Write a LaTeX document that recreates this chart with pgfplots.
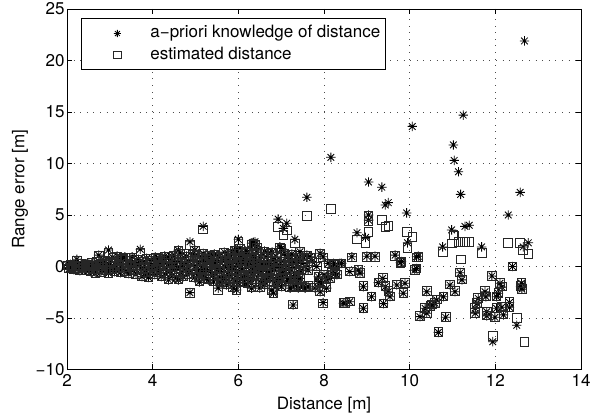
\documentclass[border=0pt]{standalone}
\usepackage{pgfplots}
\pgfplotsset{compat=1.18}
\usepackage{pgfplotstable}
\usepackage{fontspec}
\setmainfont{TeX Gyre Heros}
\pgfdeclareplotmark{mstar}{%
 \pgfpathmoveto{\pgfqpoint{-\pgfplotmarksize}{0pt}}\pgfpathlineto{\pgfqpoint{\pgfplotmarksize}{0pt}}%
 \pgfpathmoveto{\pgfqpoint{0pt}{-\pgfplotmarksize}}\pgfpathlineto{\pgfqpoint{0pt}{\pgfplotmarksize}}%
 \pgfpathmoveto{\pgfqpoint{-.707\pgfplotmarksize}{-.707\pgfplotmarksize}}\pgfpathlineto{\pgfqpoint{.707\pgfplotmarksize}{.707\pgfplotmarksize}}%
 \pgfpathmoveto{\pgfqpoint{-.707\pgfplotmarksize}{.707\pgfplotmarksize}}\pgfpathlineto{\pgfqpoint{.707\pgfplotmarksize}{-.707\pgfplotmarksize}}%
 \pgfusepathqstroke}
\pgfplotsset{
  mlegimg/.style={legend image code/.code={%
    \path[draw=none,fill=none] (0bp,-5bp) rectangle (64bp,5bp);
    \draw[##1,mark size=3.6bp] plot coordinates {(31bp,0bp)};}},
}
\pgfplotstableread{
x a e
2.02 0.10 0.10
2.05 -0.20 -0.18
2.08 0.20 0.18
2.10 -0.10 -0.10
2.13 0.00 0.02
2.16 -0.30 -0.28
2.20 0.15 0.12
2.23 0.70 0.60
2.25 -0.20 -0.20
2.28 0.05 0.05
2.30 -0.40 -0.38
2.33 0.30 0.28
2.36 -0.10 -0.08
2.40 0.10 0.10
2.43 -0.35 -0.33
2.46 0.25 0.22
2.50 -0.20 -0.20
2.52 0.00 0.00
2.55 -0.50 -0.48
2.58 0.35 0.32
2.60 -0.25 -0.25
2.63 0.10 0.10
2.66 -0.65 -0.62
2.69 0.45 0.42
2.72 -0.30 -0.30
2.74 1.10 1.00
2.76 0.05 0.05
2.79 -0.55 -0.52
2.82 0.30 0.30
2.85 -0.15 -0.15
2.88 0.60 0.55
2.90 -0.40 -0.40
2.93 0.20 0.20
2.97 1.60 1.30
2.97 -0.65 -0.62
3.00 0.40 0.38
3.03 -0.30 -0.30
3.06 0.90 0.85
3.08 0.00 0.00
3.11 -0.50 -0.48
3.14 0.50 0.48
3.17 1.00 0.95
3.19 -0.20 -0.20
3.22 0.20 0.20
3.25 -0.60 -0.58
3.28 0.80 0.75
3.30 0.65 0.62
3.33 -0.10 -0.10
3.35 0.95 0.90
3.38 -0.45 -0.45
3.41 0.30 0.30
3.44 -0.70 -0.68
3.47 0.55 0.52
3.50 0.00 0.00
3.52 0.95 0.90
3.55 -0.40 -0.40
3.58 0.40 0.38
3.61 -0.75 -0.72
3.64 0.15 0.15
3.67 0.70 0.68
3.71 1.67 1.34
3.72 -0.25 -0.25
3.75 -1.00 -0.95
3.78 0.45 0.42
3.80 0.00 0.00
3.83 -0.60 -0.58
3.86 0.80 0.78
3.88 -0.20 -0.20
3.90 -1.05 -1.00
3.93 0.30 0.30
3.96 0.60 0.58
3.98 -0.45 -0.45
4.02 0.10 0.10
4.05 -0.80 -0.78
4.06 0.95 0.90
4.09 -0.30 -0.30
4.11 0.50 0.48
4.13 0.80 0.78
4.15 -0.60 -0.58
4.18 0.20 0.20
4.20 -1.00 -0.95
4.23 0.60 0.58
4.25 -0.20 -0.20
4.28 1.00 0.95
4.30 -0.70 -0.68
4.33 0.35 0.35
4.35 0.00 0.00
4.37 -1.30 -1.25
4.37 0.95 0.92
4.40 -0.45 -0.45
4.43 0.70 0.68
4.45 -0.90 -0.88
4.48 0.20 0.20
4.50 1.10 1.05
4.52 -0.30 -0.30
4.55 -1.10 -1.05
4.57 0.50 0.48
4.60 1.60 1.50
4.60 -1.30 -1.25
4.62 0.00 0.00
4.64 1.28 1.20
4.66 -0.60 -0.58
4.69 0.80 0.78
4.71 -1.00 -0.95
4.74 0.30 0.30
4.76 -0.20 -0.20
4.79 1.00 0.95
4.81 -0.80 -0.78
4.84 0.55 0.52
4.87 2.40 2.10
4.87 -2.54 -2.54
4.89 -0.40 -0.40
4.92 0.10 0.10
4.94 1.20 1.15
4.97 -1.10 -1.05
4.99 1.60 1.50
4.99 0.60 0.58
5.02 -0.60 -0.58
5.04 1.10 1.05
5.05 0.20 0.20
5.07 -1.00 -0.95
5.09 -1.50 -1.45
5.10 0.90 0.85
5.12 -0.30 -0.30
5.14 -0.20 -0.20
5.15 0.50 0.48
5.18 3.90 3.60
5.18 1.28 1.20
5.20 -0.80 -0.78
5.22 0.00 0.00
5.24 0.80 0.78
5.25 -1.20 -1.15
5.27 0.70 0.68
5.29 -0.40 -0.40
5.30 -1.30 -1.25
5.32 0.30 0.30
5.34 1.10 1.05
5.35 -0.50 -0.48
5.38 1.00 0.95
5.40 -0.90 -0.88
5.42 -1.50 -1.45
5.44 1.20 1.15
5.46 0.10 0.10
5.47 0.40 0.40
5.48 -0.30 -0.30
5.50 0.60 0.58
5.52 1.00 0.95
5.53 -2.10 -2.30
5.55 -1.00 -0.95
5.57 -0.50 -0.48
5.58 0.40 0.38
5.60 -1.60 -1.55
5.62 0.63 0.60
5.63 -1.30 -1.25
5.65 -0.20 -0.20
5.67 1.40 1.35
5.68 0.90 0.85
5.70 -1.20 -1.15
5.72 -1.80 -1.75
5.73 0.20 0.20
5.75 -0.60 -0.58
5.77 -0.10 -0.10
5.78 1.10 1.05
5.80 -1.50 -1.45
5.81 0.90 0.88
5.82 0.50 0.48
5.84 1.28 1.20
5.86 -0.30 -0.30
5.87 -1.20 -1.15
5.88 -2.10 -2.05
5.90 0.00 0.00
5.91 1.60 1.55
5.92 0.80 0.78
5.94 -0.90 -0.88
5.95 -0.50 -0.48
5.96 -2.28 -2.25
5.97 1.60 1.50
5.98 0.30 0.30
5.99 -1.60 -1.55
6.00 2.64 2.40
6.00 1.28 1.20
6.02 -0.50 -0.48
6.04 1.76 1.70
6.05 0.80 0.78
6.06 -1.20 -1.15
6.08 0.50 0.48
6.10 -0.20 -0.20
6.11 -0.90 -0.88
6.12 1.00 0.95
6.14 -1.60 -1.55
6.16 0.30 0.30
6.17 1.50 1.45
6.18 -0.80 -0.78
6.20 1.40 1.35
6.21 -1.70 -1.65
6.23 -1.15 -1.10
6.25 0.00 0.00
6.26 0.40 0.38
6.27 0.80 0.78
6.29 -0.50 -0.48
6.31 2.25 2.15
6.31 -1.63 -1.60
6.31 -2.10 -2.05
6.33 0.00 0.00
6.34 -0.90 -0.88
6.35 2.35 2.20
6.36 1.20 1.15
6.38 0.90 0.88
6.39 2.40 2.10
6.40 -0.30 -0.30
6.42 0.60 0.58
6.43 1.90 1.80
6.44 1.60 1.55
6.45 -1.00 -0.95
6.47 -0.50 -0.48
6.48 0.10 0.10
6.50 -2.10 -2.05
6.52 1.00 0.95
6.53 -1.60 -1.55
6.55 0.20 0.20
6.57 -0.30 -0.30
6.58 -1.40 -1.35
6.60 0.40 0.38
6.61 1.50 1.45
6.62 -1.80 -1.75
6.62 0.00 0.00
6.65 0.90 0.85
6.66 -1.20 -1.15
6.68 -0.70 -0.68
6.70 1.30 1.25
6.71 0.10 0.10
6.72 -1.10 -1.05
6.74 -0.50 -0.48
6.75 0.30 0.30
6.78 -2.28 -2.25
6.79 1.40 1.35
6.81 0.63 0.60
6.82 -2.60 -2.55
6.83 -1.60 -1.55
6.85 -0.40 -0.40
6.87 0.50 0.48
6.88 1.00 0.95
6.90 -1.30 -1.25
6.91 -0.10 -0.10
6.93 4.60 3.86
6.93 -1.80 -1.75
6.95 0.20 0.20
6.96 -1.20 -1.15
6.97 1.92 1.85
6.99 -0.80 -0.78
7.01 1.76 1.70
7.01 0.47 0.45
7.01 -1.96 -1.90
7.03 -0.70 -0.68
7.05 3.70 3.06
7.07 -0.30 -0.30
7.08 1.30 1.25
7.10 0.90 0.85
7.12 -1.50 -1.45
7.13 4.20 3.50
7.15 -1.20 -1.15
7.16 0.10 0.10
7.17 0.63 0.60
7.20 -0.60 -0.58
7.21 -2.10 -2.05
7.23 0.20 0.20
7.25 1.20 1.15
7.26 0.60 0.58
7.28 -3.74 -3.70
7.28 -1.96 -1.90
7.29 -1.10 -1.05
7.30 -0.10 -0.10
7.32 2.64 2.25
7.32 -0.66 -0.62
7.35 0.40 0.38
7.36 -1.80 -1.75
7.38 -1.40 -1.35
7.40 -2.10 -2.05
7.40 -1.00 -0.95
7.42 0.90 0.88
7.44 1.44 1.40
7.44 -1.15 -1.10
7.46 -0.40 -0.40
7.48 0.30 0.30
7.50 -2.00 -1.95
7.52 0.80 0.78
7.56 0.00 0.00
7.56 -2.10 -2.05
7.60 6.72 4.93
7.60 1.10 1.05
7.63 -0.35 -0.35
7.63 -1.96 -1.90
7.68 0.95 0.90
7.72 0.50 0.48
7.79 -2.10 -2.05
7.83 0.00 0.00
7.87 -1.00 -0.95
7.87 -1.47 -1.45
7.91 1.28 1.20
7.91 -2.45 -2.40
7.95 -1.63 -1.60
7.98 0.95 0.90
7.98 -3.50 -3.57
8.00 -0.80 -0.78
8.06 -2.10 -2.05
8.06 -1.30 -1.25
8.10 0.30 0.30
8.14 -1.15 -1.10
8.16 10.60 5.58
8.18 -0.66 -0.62
8.22 0.30 0.30
8.26 -0.66 -0.62
8.26 0.15 0.15
8.30 -0.80 -0.78
8.37 0.30 0.30
8.41 0.30 0.30
8.45 -3.57 -3.55
8.49 -3.57 -3.55
8.60 -3.42 -3.40
8.60 -0.50 -0.48
8.65 0.95 0.90
8.77 3.28 2.64
8.80 -0.35 -0.35
8.84 -0.66 -0.62
8.92 -1.96 -1.90
8.92 -4.06 -4.00
8.97 2.83 2.30
9.00 1.00 0.95
9.04 8.20 3.38
9.04 5.00 4.90
9.04 4.50 4.40
9.11 -2.93 -2.90
9.19 1.00 0.95
9.27 -1.57 -1.55
9.35 7.70 4.50
9.37 -1.15 -1.10
9.39 -3.60 -3.57
9.43 5.97 3.86
9.43 -1.96 -1.90
9.50 6.20 3.93
9.50 -2.45 -2.40
9.54 -2.93 -2.90
9.66 1.10 1.05
9.70 -1.80 -1.75
9.78 0.37 0.35
9.81 0.47 0.45
9.85 -2.60 -2.55
9.89 -1.63 -1.60
9.93 5.20 3.38
9.95 2.30 1.80
10.06 13.60 2.90
10.12 -0.35 -0.35
10.16 0.95 0.90
10.16 -0.20 -0.20
10.20 1.00 0.95
10.24 -4.87 -4.80
10.36 -4.06 -4.00
10.40 -4.54 -4.50
10.40 -2.45 -2.40
10.48 -3.83 -3.80
10.52 -3.74 -3.70
10.59 -3.57 -3.55
10.63 -3.25 -3.20
10.67 -6.40 -6.35
10.77 1.90 1.40
10.79 -2.93 -2.90
10.84 -4.93 -4.90
10.94 -1.80 -1.75
10.98 3.55 2.25
11.02 11.80 3.06
11.04 10.30 3.00
11.06 -2.45 -2.40
11.14 9.20 2.40
11.18 -0.60 -0.58
11.19 7.00 0.70
11.22 -1.30 -1.25
11.25 14.70 2.40
11.29 3.90 2.40
11.39 4.00 2.40
11.53 -4.06 -4.00
11.53 -4.54 -4.50
11.57 -3.57 -3.55
11.60 -3.09 -3.05
11.68 1.90 1.30
11.76 -2.45 -2.40
11.78 -2.93 -2.90
11.80 -4.39 -4.35
11.80 -4.80 -4.75
11.92 -0.92 -0.90
11.94 -7.30 -6.75
11.99 -4.93 -4.90
12.03 -4.06 -4.00
12.03 -2.93 -2.90
12.07 -2.60 -2.55
12.11 -1.63 -1.60
12.15 -2.00 -1.95
12.15 -3.96 -3.90
12.19 -4.70 -4.65
12.30 5.00 2.30
12.33 -3.50 -3.45
12.33 -3.96 -3.90
12.40 0.00 0.00
12.50 -5.70 -5.00
12.58 7.20 2.30
12.59 -1.96 -1.90
12.61 -1.63 -1.60
12.62 -2.20 -2.15
12.65 1.90 1.60
12.68 21.90 -7.30
12.77 2.30 1.20
}\datatable
\begin{document}
\begin{tikzpicture}[font=\fontsize{17bp}{20bp}\selectfont]
\path[use as bounding box] (-67bp,-48.5bp) rectangle (524bp,369.5bp);
\begin{axis}[
  at={(0,0)}, anchor=south west,
  scale only axis, width=514bp, height=360.5bp,
  xmin=2, xmax=14, ymin=-10, ymax=25,
  xtick={2,4,6,8,10,12,14},
  xticklabels={2,4,6,8,10,12,14},
  ytick={-10,-5,0,5,10,15,20,25},
  yticklabels={−10,−5,0,5,10,15,20,25},
  tick align=inside,
  major tick length=5bp,
  tick style={black, line width=0.6bp},
  axis line style={black, line width=0.8bp},
  grid=major,
  major grid style={black!70, line width=0.6bp, dash pattern=on 0.6bp off 6bp},
  xlabel={Distance [m]},
  ylabel={Range error [m]},
  xlabel style={at={(axis description cs:0.5,-0.0985)}, anchor=center},
  ylabel style={at={(axis description cs:-0.0914,0.5)}, anchor=center},
  xticklabel style={yshift=-1bp},
  yticklabel style={xshift=1bp},
  clip=false,
  legend cell align=left,
  legend style={at={(0.0272,0.974)}, anchor=north west, draw=black, line width=0.8bp,
    inner xsep=5bp, inner ysep=7bp, row sep=6bp, column sep=0bp, fill=white,
    nodes={inner xsep=0bp, inner ysep=0bp, text height=12bp, text depth=3.5bp}},
]
\addplot[only marks, mark=mstar, mark size=4.7bp, black, mark options={line width=0.85bp}, mlegimg]
  table[x=x,y=a]{\datatable};
\addlegendentry{a−priori knowledge of distance}
\addplot[only marks, mark=square, mark size=4.3bp, black!85, mark options={line width=0.85bp}, mlegimg]
  table[x=x,y=e]{\datatable};
\addlegendentry{estimated distance}
\end{axis}
\end{tikzpicture}
\end{document}
